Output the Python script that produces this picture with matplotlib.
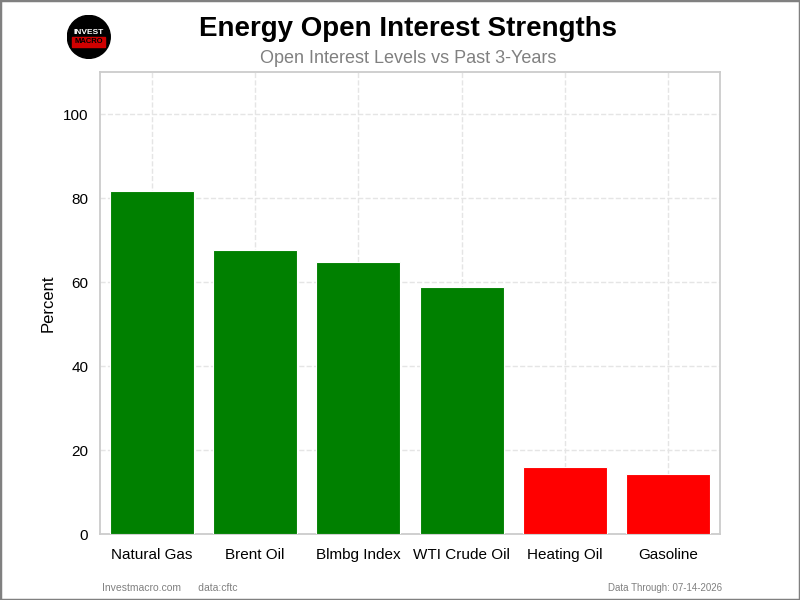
import matplotlib
matplotlib.use("Agg")
import matplotlib.pyplot as plt
from matplotlib.patches import Circle, Rectangle

plt.rcParams['font.family'] = ['Liberation Sans', 'DejaVu Sans']

# data
markets = ['Natural Gas', 'Brent Oil', 'Blmbg Index', 'WTI Crude Oil', 'Heating Oil', 'Gasoline']
values = [81.7, 67.6, 64.8, 58.8, 16.0, 14.2]
colors = ['green' if v >= 50 else 'red' for v in values]

fig = plt.figure(figsize=(8, 6), dpi=100)
ax = fig.add_axes([0.125, 0.11, 0.775, 0.77])

ax.bar(markets, values, width=0.81, color=colors, edgecolor='white', linewidth=0.8, zorder=3)
ax.set_ylim(0, 110)
ax.set_xlim(-0.5, len(markets) - 0.5)
ax.set_yticks([0, 20, 40, 60, 80, 100])
ax.set_ylabel('Percent', fontsize=12, labelpad=5)
ax.tick_params(axis='both', length=0, labelsize=11)
ax.tick_params(axis='x', pad=10)
ax.tick_params(axis='y', pad=8.5)
ax.grid(True, linestyle='--', color='#e5e5e5', linewidth=1, zorder=0)
for s in ax.spines.values():
    s.set_color('#cccccc')
    s.set_linewidth(1.3)

# titles
fig.text(0.51, 0.952, 'Energy Open Interest Strengths', ha='center', va='center',
         fontsize=20, fontweight='bold')
fig.text(0.51, 0.903, 'Open Interest Levels vs Past 3-Years', ha='center', va='center',
         fontsize=13, color='gray')

# logo
lax = fig.add_axes([0.082, 0.902, 0.058, 0.073])
lax.set_xlim(-1, 1)
lax.set_ylim(-1, 1)
lax.set_aspect('equal')
lax.axis('off')
lax.add_patch(Circle((0, 0), 0.98, color='black'))
lax.add_patch(Rectangle((-0.75, -0.45), 1.5, 0.45, color='#d00000'))
lax.text(0, 0.22, 'INVEST', color='white', fontsize=6, fontweight='bold', ha='center', va='center')
lax.text(0, -0.22, 'MACRO', color='black', fontsize=5.5, fontweight='bold', ha='center', va='center')

# footer
fig.text(0.127, 0.02, 'Investmacro.com      data:cftc', fontsize=7.5, color='gray', va='center')
fig.text(0.903, 0.02, 'Data Through: 07-14-2026', fontsize=7, color='gray', ha='right', va='center')

# figure border
fig.patches.append(Rectangle((0, 0), 1, 1, transform=fig.transFigure, fill=False,
                             edgecolor='gray', linewidth=2.5))

fig.savefig('out.png', dpi=100)
